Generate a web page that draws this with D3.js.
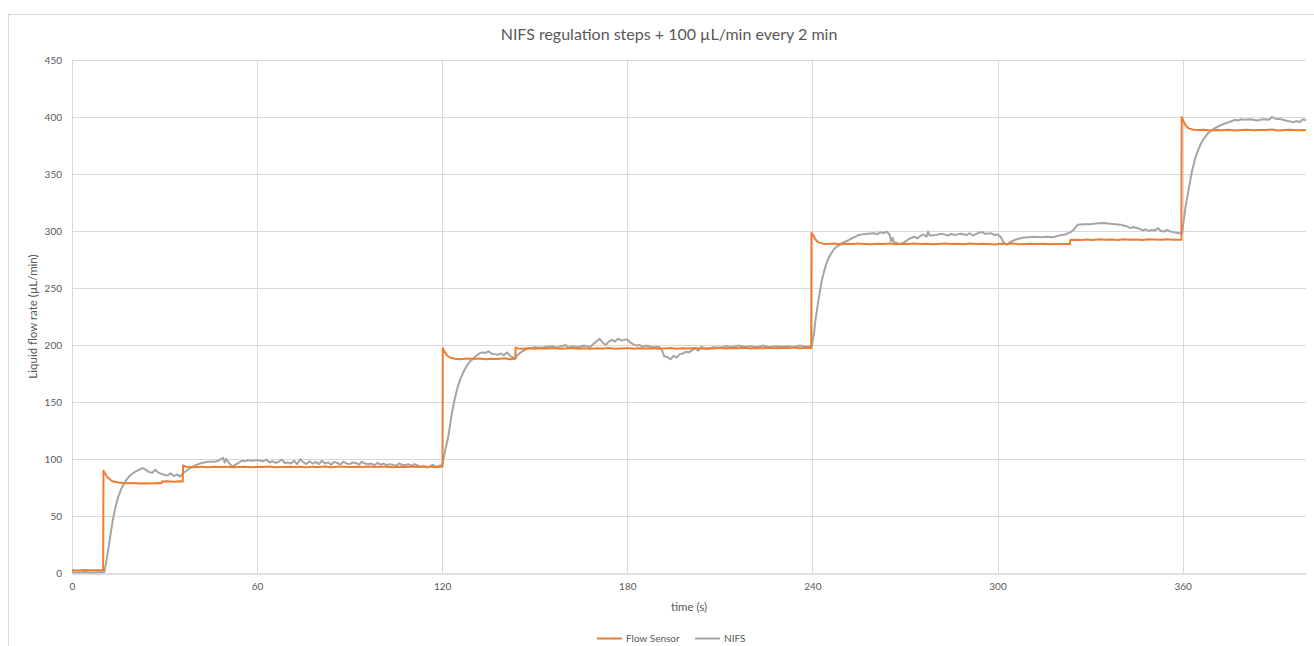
<!DOCTYPE html>
<html>
<head>
<meta charset="utf-8">
<script src="https://cdn.jsdelivr.net/npm/d3@7"></script>
<style>
  html, body { margin: 0; padding: 0; background: #ffffff; }
  svg { display: block; }
  text { font-family: Lato, "Open Sans", sans-serif; fill: #595959; }
</style>
</head>
<body>
<svg id="chart" width="1314" height="646"></svg>
<script>
// ---------- data ----------
const chartTitle = "NIFS regulation steps + 100 \u00b5L/min every 2 min";
const xTitle = "time (s)";
const yTitle = "Liquid flow rate (\u00b5L/min)";
const seriesNames = ["Flow Sensor", "NIFS"];
const xTicks = [0, 60, 120, 180, 240, 300, 360];
const yTicks = [0, 50, 100, 150, 200, 250, 300, 350, 400, 450];

const flowTime = [0,2,4,6,8,10,10.1,10.2,10.8,11.5,12.5,13.5,15,16.5,18,20,22,24,26,28,29,29.1,31,33,35,35.9,36,37,38.5,
  40,42,44,46,48,50,52,54,56,58,60,62,64,66,68,70,72,74,76,78,80,82,84,86,88,90,92,94,96,98,100,102,104,106,108,110,112,114,116,118,
  120,120.1,120.2,120.8,121.5,122.5,124,
  126,128,130,132,134,136,138,140,142,
  143.7,143.8,144.6,
  146,148,150,152,154,156,158,160,162,164,166,168,170,172,174,176,178,180,182,184,186,188,190,192,194,196,198,200,202,204,206,208,210,212,214,216,218,220,222,224,226,228,230,232,234,236,238,
  239.6,239.7,240.3,241,242,243.5,
  245,247,249,251,253,255,257,259,261,263,265,267,269,271,273,275,277,279,281,283,285,287,289,291,293,295,297,299,301,303,305,307,309,311,313,315,317,319,321,
  323.5,323.6,
  325,327,329,331,333,335,337,339,341,343,345,347,349,351,353,355,357,
  359.6,359.7,360.3,361,362,363.5,
  365,367,369,371,373,375,377,379,381,383,385,387,389,391,393,395,397,399,
  400];
const flowRate = [2.5,2.3,2.6,2.4,2.5,2.5,2.5,89.7,87,84,81.5,80.2,79.3,78.9,78.7,78.9,78.5,78.8,78.6,78.9,78.8,80.2,80.4,80.1,80.5,80.3,94.3,93.3,93.0,
  92.8,93.2,92.7,93.1,92.9,93.3,92.8,93.0,93.2,92.7,93.1,92.9,93.4,92.8,93.0,93.3,92.9,93.1,92.7,93.2,93.0,93.4,92.8,93.1,93.3,92.9,93.2,93.0,93.4,92.9,93.1,93.3,92.8,93.2,93.0,93.4,92.9,93.1,93.3,93.0,
  93.2,93.2,197.2,194,191,189,188,
  187.6,188.1,187.7,188.2,187.5,188.0,187.8,188.3,187.6,
  187.9,197.8,197,
  196.8,197.2,196.6,197.1,196.9,197.4,196.7,197.0,197.3,196.8,197.1,196.6,197.2,196.9,197.4,196.8,197.0,197.3,196.7,197.1,196.9,197.2,196.6,197.0,197.3,196.8,197.1,196.9,197.4,196.8,197.2,197.0,197.5,196.9,197.3,197.1,197.5,197.0,197.4,197.2,197.6,197.1,197.4,197.3,197.7,197.2,197.5,
  197.4,298.5,296,292.5,290,288.9,
  288.6,289.0,288.4,288.9,288.5,289.1,288.7,288.3,288.9,288.6,289.0,288.4,288.8,288.5,289.1,288.6,288.9,288.3,288.7,289.0,288.5,288.8,288.4,289.0,288.6,288.9,288.5,288.2,288.8,288.6,289.0,288.4,288.7,288.9,288.5,288.8,288.3,288.7,288.6,
  288.6,292.2,
  292.4,292.0,292.6,292.2,292.8,292.3,292.5,292.1,292.7,292.4,292.6,292.2,292.8,292.5,292.3,292.7,292.4,
  292.3,400,396,392.5,390,388.8,
  388.5,388.9,388.2,388.7,388.4,388.9,388.1,388.6,388.8,388.3,388.7,388.5,389.0,388.2,388.6,388.8,388.3,388.6,
  388.4];

const nifsTime = [0,2,4,6,8,10,10.5,11,12,13,14,15,16,17,18,19,20,21,22,23,24,25,26,27,28,29,30,31,32,33,34,35,36,37,38,39,40,41,42,43,44,45,46,47,48,49,49.5,50,51,52,53,54,55,56,57,58,60,62,63,64,65,66,67,68,69,70,71,72,73,74,75,76,77,78,79,80,81,82,83,84,85,86,87,88,89,90,91,92,93,94,95,96,97,98,99,100,101,102,103,104,105,106,107,108,109,110,111,112,113,114,115,116,117,118,119,120,
  121,122,123,124,125,126,127,128,129,130,131,132,133,134,135,136,137,138,139,140,141,142,143,143.8,144,145,146,147,148,149,150,152,154,156,157,158,160,161,162,164,166,168,169,170,171,172,173,174,175,176,177,178,179,180,181,182,183,184,185,186,188,190,191,192,193,194,195,196,197,198,199,200,201,202,203,204,205,206,208,210,212,214,216,218,220,222,224,226,228,230,232,234,236,238,239.8,
  240.5,241,242,243,244,245,246,247,248,249,250,251,252,253,254,255,256,258,260,261,262,263,264,265,265.5,266,266.5,267,268,269,270,271,272,273,274,275,276,277,277.5,278,280,282,284,285,286,288,290,291,292,294,295,296,298,299,300,301,302,303,304,305,306,308,310,312,314,316,318,320,322,324,325,326,328,330,332,334,336,338,340,342,343,344,346,347,348,349,350,351,352,353,354,355,356,357,358,359,359.8,
  360.4,361,362,363,364,365,366,367,368,369,370,371,372,373,374,375,376,377,378,379,380,382,384,386,388,389,390,392,394,396,397,398,399,400];
const nifsRate = [0.6,0.4,0.8,0.5,0.7,0.6,1.0,8,25,43,57,67,74,79,83,86,88,89.5,91,92,90.5,88.5,88,90.5,88,87,86,85.5,87.5,85,86.5,84.5,87.5,89.5,91.5,93,94.5,95.5,96.5,97,97.5,97.6,97.5,98,99.5,101,97,100,96,93.5,95,96.5,98.5,98,99,98.5,99,98,99.5,97,98,96.5,97.5,99.5,96.5,97,96,98.5,95.5,99.8,97,95.5,98,96,97.5,95.5,98.5,96,97,95,97.5,96.5,95,97.8,96,95.5,97,96.5,95,97.5,96,95.5,96,94.5,96.5,95,96,94.5,95.5,95,94,96,95,94.5,95.5,94,95.5,94.5,93,94,92.5,93.5,95,93,94,94.5,
  108,120,138,152,163,171,177,182,185.5,188,190.5,192.5,193.5,193,194.5,192.5,192,191.5,192.5,191,193.5,190.5,189,188.5,190,192.5,194.5,196,197,197.5,198,197.5,198.5,199,197.5,198.5,200,197.5,199,198,199.5,198,201,203,205.5,202,200,203,204.5,203,205.5,204,204.5,205,202,200.5,199.5,200,198.5,199.5,198,198.5,197,190,189.5,187.5,190.5,189,192,192.5,194,193.5,195.5,197,195,198.5,197,196.5,198,197.5,199,198,199.5,198.5,199,198,199.5,198,199,198.5,199,198,199.5,198.5,199,
  210,222,240,256,267,275,280,284,286.5,288.5,290,291,292.5,294,295,296.5,297,297.5,298,297,299,298,299.5,297,291,294,289,290,288.5,289,290.5,292.5,294,295,293.5,295.5,297,295,299.5,296,296.5,297.5,296,297.5,296.5,297.5,296.5,298,296,298.5,299,297.5,298,296.5,297,295,290,288,290,291.5,292.5,294,294.5,295,294.5,295,294.5,296,297,299.5,302,305.5,306,306,306.5,307,306.5,306,305.5,304,302.5,303.5,302,300.5,301.5,300,301,300.5,302.5,300,299.5,301,299.5,299,298.5,298,298,
  310,322,337,352,363,371,377,381.5,385,387.5,389.5,391,392.5,393.5,394.5,395.5,396.5,397.5,397,398,397.5,398,397,398,397.5,400,398.5,398,396.5,395.5,396.5,395.5,398,397];

const seriesColors = ["#ED7D31", "#A5A5A5"];

// ---------- chart ----------
const W = 1314, H = 646;
const plot = { left: 72, right: 1306, top: 60, bottom: 573 };
const svg = d3.select("#chart");

svg.append("rect").attr("x", 0).attr("y", 0).attr("width", W).attr("height", H).attr("fill", "#ffffff");
// chart area frame
svg.append("rect").attr("x", 8.5).attr("y", 14.5).attr("width", 1330).attr("height", 660)
  .attr("fill", "none").attr("stroke", "#d9d9d9").attr("stroke-width", 1);

const x = d3.scaleLinear().domain([0, 400]).range([plot.left, plot.right]);
const y = d3.scaleLinear().domain([0, 450]).range([plot.bottom, plot.top]);

// horizontal gridlines
svg.append("g").selectAll("line").data(yTicks.filter(d => d > 0)).join("line")
  .attr("x1", plot.left).attr("x2", plot.right)
  .attr("y1", d => Math.round(y(d)) + 0.5).attr("y2", d => Math.round(y(d)) + 0.5)
  .attr("stroke", "#d9d9d9").attr("stroke-width", 1);
// vertical gridlines
svg.append("g").selectAll("line").data(xTicks).join("line")
  .attr("x1", d => Math.round(x(d)) + 0.5).attr("x2", d => Math.round(x(d)) + 0.5)
  .attr("y1", plot.top).attr("y2", plot.bottom)
  .attr("stroke", "#d9d9d9").attr("stroke-width", 1);

// axes
const xAxis = d3.axisBottom(x).tickValues(xTicks).tickSize(0).tickPadding(9);
const gx = svg.append("g").attr("transform", `translate(0,${Math.round(plot.bottom) + 0.5})`).call(xAxis);
gx.select(".domain").attr("stroke", "#bfbfbf").attr("stroke-width", 1.2);
gx.selectAll("text").style("font-size", "10px").style("fill", "#595959").style("font-family", "Lato, 'Open Sans', sans-serif");

const yAxis = d3.axisLeft(y).tickValues(yTicks).tickSize(0).tickPadding(10);
const gy = svg.append("g").attr("transform", `translate(${plot.left},0)`).call(yAxis);
gy.select(".domain").remove();
gy.selectAll("text").style("font-size", "10px").style("fill", "#595959").style("font-family", "Lato, 'Open Sans', sans-serif");

// lines
const flowData = flowTime.map((t, i) => ({ t, v: flowRate[i] }));
const nifsData = nifsTime.map((t, i) => ({ t, v: nifsRate[i] }));
const line = d3.line().x(d => x(d.t)).y(d => y(d.v));

svg.append("path").datum(nifsData).attr("d", line)
  .attr("fill", "none").attr("stroke", seriesColors[1]).attr("stroke-width", 2).attr("stroke-linejoin", "round");
svg.append("path").datum(flowData).attr("d", line)
  .attr("fill", "none").attr("stroke", seriesColors[0]).attr("stroke-width", 2).attr("stroke-linejoin", "round");

// title
svg.append("text").attr("x", 669).attr("y", 40).attr("text-anchor", "middle")
  .style("font-size", "16px").text(chartTitle);

// axis titles
svg.append("text").attr("x", 689).attr("y", 611).attr("text-anchor", "middle")
  .style("font-size", "11.5px").text(xTitle);
svg.append("text").attr("transform", `translate(37,${(plot.top + plot.bottom) / 2}) rotate(-90)`)
  .attr("text-anchor", "middle").style("font-size", "11.5px").text(yTitle);

// legend
const legend = svg.append("g");
const legendItems = [
  { name: seriesNames[0], color: seriesColors[0], x0: 597 },
  { name: seriesNames[1], color: seriesColors[1], x0: 695 }
];
legendItems.forEach(it => {
  legend.append("line").attr("x1", it.x0).attr("x2", it.x0 + 25).attr("y1", 638.5).attr("y2", 638.5)
    .attr("stroke", it.color).attr("stroke-width", 2);
  legend.append("text").attr("x", it.x0 + 29).attr("y", 642).style("font-size", "10px").text(it.name);
});
</script>
</body>
</html>
